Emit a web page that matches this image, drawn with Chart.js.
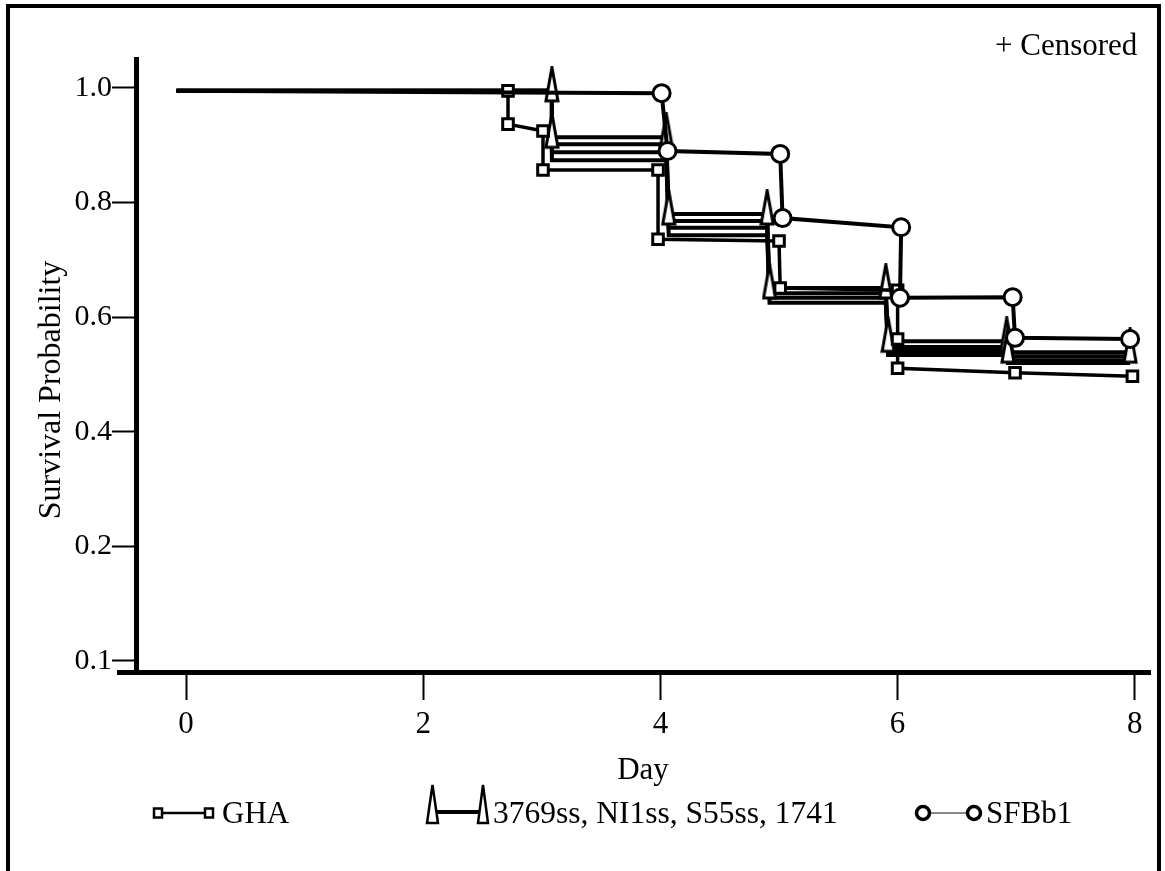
<!DOCTYPE html>
<html>
<head>
<meta charset="utf-8">
<script src="https://cdn.jsdelivr.net/npm/chart.js@4.4.1/dist/chart.umd.min.js"></script>
<style>
    html, body { margin: 0; padding: 0; background: #fff; }
    body { width: 1165px; height: 871px; overflow: hidden; position: relative; font-family: "Liberation Serif", "Times New Roman", serif; color: #000; }
    #frame { position: absolute; left: 6px; top: 4px; width: 1147px; height: 900px; border: 4px solid #000; border-bottom: none; }
    #chart { position: absolute; left: 0; top: 0; }
    .txt { position: absolute; font-size: 31px; line-height: 31px; white-space: nowrap; }
    .mark { position: absolute; }
    #ytitle { position: absolute; left: -151px; top: 374px; width: 400px; text-align: center; font-size: 32px; line-height: 32px; transform: rotate(-90deg); white-space: nowrap; }
    #xstub { position: absolute; left: 117px; top: 670px; width: 20px; height: 5px; background: #000; }
</style>
</head>
<body>
<div id="frame"></div>
<canvas id="chart" width="1165" height="871"></canvas>
<div id="xstub"></div>
<div id="ytitle">Survival Probability</div>
<div class="txt" style="left:995px; top:29px;">+ Censored</div>

<svg class="mark" style="left:148px; top:803px;" width="70" height="20">
    <line x1="14" y1="10" x2="56" y2="10" stroke="#000" stroke-width="2.5"/>
    <rect x="6" y="5.5" width="8" height="9" fill="#fff" stroke="#000" stroke-width="2.5"/>
    <rect x="57" y="5.5" width="8" height="9" fill="#fff" stroke="#000" stroke-width="2.5"/>
</svg>
<div class="txt" style="left:222px; top:797px;">GHA</div>

<svg class="mark" style="left:424px; top:782px;" width="68" height="44">
    <line x1="13" y1="30" x2="56" y2="30" stroke="#000" stroke-width="4"/>
    <polygon points="8.5,3 14,41 3,41" fill="#fff" stroke="#000" stroke-width="2.5"/>
    <polygon points="59,3 64,41 54,41" fill="#fff" stroke="#000" stroke-width="2.5"/>
</svg>
<div class="txt" style="left:493px; top:797px; font-size:31.5px;">3769ss, NI1ss, S55ss, 1741</div>

<svg class="mark" style="left:910px; top:801px;" width="80" height="24">
    <line x1="20" y1="12" x2="58" y2="12" stroke="#888" stroke-width="2"/>
    <circle cx="13" cy="12" r="6.5" fill="#fff" stroke="#000" stroke-width="3.5"/>
    <circle cx="64" cy="12" r="6.5" fill="#fff" stroke="#000" stroke-width="3.5"/>
</svg>
<div class="txt" style="left:986px; top:797px;">SFBb1</div>

<script>
const FONT = '"Liberation Serif", "Times New Roman", serif';

// axes
const xTicks = [0, 2, 4, 6, 8];
const yTicks = [0, 0.2, 0.4, 0.6, 0.8, 1.0];
const yTickLabels = ['0.1', '0.2', '0.4', '0.6', '0.8', '1.0'];

// SFBb1 (circles)
const sfbDays = [-0.08, 4.01, 4.06, 5.01, 5.03, 6.03, 6.02, 6.97, 6.99, 7.96];
const sfbSurv = [0.995, 0.991, 0.890, 0.885, 0.773, 0.757, 0.634, 0.635, 0.564, 0.562];

// GHA (squares)
const ghaDays = [-0.08, 2.715, 2.715, 3.01, 3.01, 3.98, 3.98, 5.0, 5.01, 6.0, 6.0, 6.0, 6.99, 7.98];
const ghaSurv = [0.995, 0.995, 0.937, 0.925, 0.857, 0.857, 0.736, 0.733, 0.651, 0.647, 0.562, 0.511, 0.503, 0.497];

// 3769ss, NI1ss, S55ss, 1741 (triangles) - four overlapping curves
const triDays = [-0.08, 3.085, 3.085, 4.05, 4.07, 4.9, 4.92, 5.9, 5.92, 6.92, 6.93, 7.96];
const tri3769 = [0.995, 0.995, 0.914, 0.914, 0.780, 0.780, 0.651, 0.651, 0.558, 0.558, 0.539, 0.539];
const triNI1 = [0.995, 0.995, 0.902, 0.902, 0.768, 0.768, 0.642, 0.642, 0.548, 0.548, 0.532, 0.532];
const triS55 = [0.995, 0.995, 0.888, 0.888, 0.756, 0.756, 0.634, 0.634, 0.541, 0.541, 0.525, 0.525];
const tri1741 = [0.995, 0.995, 0.874, 0.874, 0.743, 0.743, 0.625, 0.625, 0.534, 0.534, 0.520, 0.520];

const toPts = (xs, ys) => xs.map((x, i) => ({ x: x, y: ys[i] }));

// tall thin triangle marker
function makeTriangle() {
    const c = document.createElement('canvas');
    c.width = 16;
    c.height = 50;
    const g = c.getContext('2d');
    g.beginPath();
    g.moveTo(8, 1.5);
    g.lineTo(14, 35);
    g.lineTo(2, 35);
    g.closePath();
    g.fillStyle = '#fff';
    g.fill();
    g.lineWidth = 3;
    g.strokeStyle = '#000';
    g.stroke();
    return c;
}
const triMark = makeTriangle();

const skipFirst = (r) => (ctx) => ctx.dataIndex === 0 ? 0 : r;

function bandSet(data, marks) {
    return {
        data: data,
        borderColor: '#000',
        borderWidth: 4,
        pointStyle: marks ? triMark : 'circle',
        pointRadius: marks ? skipFirst(6) : 0,
        pointBorderWidth: 0,
        tension: 0,
        fill: false
    };
}

new Chart(document.getElementById('chart'), {
    type: 'line',
    data: {
        datasets: [
            {
                data: toPts(sfbDays, sfbSurv),
                borderColor: '#000',
                borderWidth: 4,
                pointStyle: 'circle',
                pointRadius: skipFirst(8.5),
                pointBorderWidth: 3,
                pointBackgroundColor: '#fff',
                pointBorderColor: '#000',
                tension: 0,
                fill: false
            },
            {
                data: toPts(ghaDays, ghaSurv),
                borderColor: '#000',
                borderWidth: 3.5,
                pointStyle: 'rect',
                pointRadius: skipFirst(7.5),
                pointBorderWidth: 3,
                pointBackgroundColor: '#fff',
                pointBorderColor: '#000',
                tension: 0,
                fill: false
            },
            bandSet(toPts(triDays, tri3769), true),
            bandSet(toPts(triDays, triNI1), false),
            bandSet(toPts(triDays, triS55), false),
            bandSet(toPts(triDays, tri1741), false)
        ]
    },
    options: {
        responsive: false,
        animation: false,
        devicePixelRatio: 1,
        layout: { padding: { top: 59, right: 15, bottom: 79, left: 0 } },
        plugins: {
            legend: { display: false },
            tooltip: { enabled: false }
        },
        scales: {
            x: {
                type: 'linear',
                min: -0.4216,
                max: 8.128,
                afterFit: (s) => { s.height = 120; },
                afterBuildTicks: (s) => { s.ticks = xTicks.map(v => ({ value: v })); },
                border: { display: true, color: '#000', width: 5 },
                grid: { drawOnChartArea: false, drawTicks: true, tickLength: 28, tickWidth: 2, tickColor: '#000' },
                ticks: { color: '#000', font: { family: FONT, size: 31 }, padding: 6, maxRotation: 0, autoSkip: false },
                title: { display: true, text: 'Day', color: '#000', font: { family: FONT, size: 31 }, padding: { top: 0, bottom: 3 } }
            },
            y: {
                type: 'linear',
                min: -0.0192,
                max: 1.0506,
                afterFit: (s) => { s.width = 136; },
                afterBuildTicks: (s) => { s.ticks = yTicks.map(v => ({ value: v })); },
                border: { display: true, color: '#000', width: 5 },
                grid: { drawOnChartArea: false, drawTicks: true, tickLength: 24, tickWidth: 2, tickColor: '#000' },
                ticks: {
                    color: '#000',
                    font: { family: FONT, size: 30 },
                    padding: 0,
                    autoSkip: false,
                    callback: (v) => yTickLabels[yTicks.indexOf(v)]
                },
                title: { display: false }
            }
        }
    }
});
</script>
</body>
</html>
